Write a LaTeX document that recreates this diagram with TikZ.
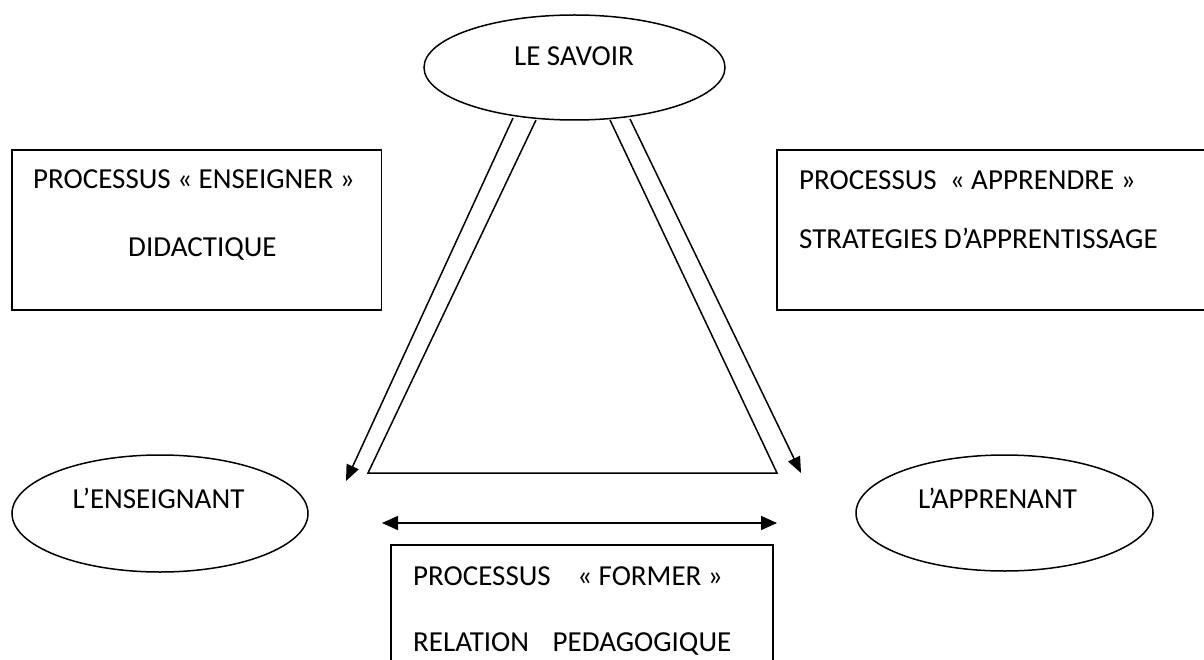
\documentclass[tikz,border=0pt]{standalone}
\usepackage{fontspec}
\setmainfont{Carlito}
\usetikzlibrary{shapes.geometric,arrows.meta}
\tikzset{
  ln/.style={line width=1.5pt, draw=black},
  ell/.style={ln, ellipse, inner sep=0pt},
  boxr/.style={ln},
  txt/.style={inner sep=0pt, font=\fontsize{29}{35}\selectfont, text=black},
  tip/.style={-{Triangle[length=16pt,width=13pt]}},
  dtip/.style={{Triangle[length=16pt,width=14pt]}-{Triangle[length=16pt,width=14pt]}}
}
\begin{document}
\begin{tikzpicture}[x=1pt,y=-1pt]
\useasboundingbox (0,0) rectangle (1204,660);
\clip (0,0) rectangle (1204,660);
% ellipses
\node[ell, minimum width=301pt, minimum height=105pt] (savoir) at (574.5,67.5) {};
\node[ell, minimum width=296pt, minimum height=117pt] (ens) at (160,513.5) {};
\node[ell, minimum width=297pt, minimum height=116pt] (app) at (1004.5,513) {};
\node[txt, anchor=base] (tsavoir) at (574,66) {LE SAVOIR};
\node[txt, anchor=base] (tens) at (158.5,508) {L’ENSEIGNANT};
\node[txt, anchor=base] (tapp) at (997.5,508) {L’APPRENANT};
% boxes
\draw[boxr] (12,150) rectangle (381.5,310);
\draw[boxr] (1215,150) -- (777,150) -- (777,310) -- (1215,310);
\draw[boxr] (391,680) -- (391,545) -- (773,545) -- (773,680);
\node[txt, anchor=base west] (l1) at (33,189) {PROCESSUS « ENSEIGNER »};
\node[txt, anchor=base west] (l2) at (128,257) {DIDACTIQUE};
\node[txt, anchor=base west] (r1) at (799,190) {PROCESSUS\ \ « APPRENDRE »};
\node[txt, anchor=base west] (r2) at (799,249) {STRATEGIES D’APPRENTISSAGE};
\node[txt, anchor=base west] (b1) at (413,585) {PROCESSUS\hspace{20pt} « FORMER »};
\node[txt, anchor=base west] (b2) at (413,651) {RELATION\hspace{17pt} PEDAGOGIQUE};
% connector points
\coordinate (sL1) at (513,118);
\coordinate (eL1) at (346,481);
\coordinate (sR1) at (630,119);
\coordinate (eR1) at (801,473);
\coordinate (tA) at (536,120);
\coordinate (tB) at (368,473);
\coordinate (tC) at (777,473);
\coordinate (tD) at (610,120);
\coordinate (dL) at (382,523);
\coordinate (dR) at (777,523);
% arrows and triangle
\draw[ln, tip] (sL1) -- (eL1);
\draw[ln, tip] (sR1) -- (eR1);
\draw[ln, line join=miter] (tA) -- (tB) -- (tC) -- (tD);
\draw[ln, dtip] (dL) -- (dR);
\end{tikzpicture}
\end{document}
